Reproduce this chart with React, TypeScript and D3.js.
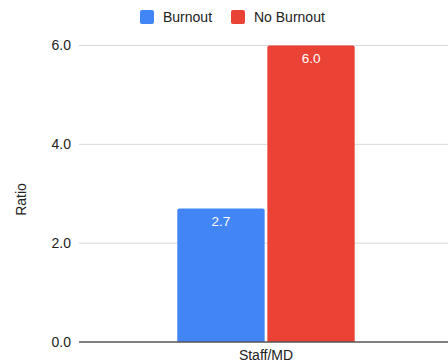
import React from "react";
import * as d3 from "d3";

const categories = ["Staff/MD"];
const seriesNames = ["Burnout", "No Burnout"];
const burnoutValues = [2.7];
const noBurnoutValues = [6.0];
const yTicks = [0, 2, 4, 6];
const seriesColors = ["#4285F4", "#EA4335"];

const W = 448;
const H = 364;
const margin = { left: 79, right: -5, top: 45.5, bottom: 22 };
const FONT = "'Liberation Sans', Arial, sans-serif";

function topRoundedBar(x: number, y: number, w: number, h: number, r: number) {
  const rr = Math.min(r, w / 2, h);
  return `M${x},${y + h}V${y + rr}Q${x},${y} ${x + rr},${y}H${x + w - rr}Q${x + w},${y} ${x + w},${y + rr}V${y + h}Z`;
}

export default function App() {
  const y = d3.scaleLinear().domain([0, 6]).range([H - margin.bottom, margin.top]);
  const x0 = d3
    .scaleBand<string>()
    .domain(categories)
    .range([margin.left, W - margin.right])
    .paddingInner(0.3565)
    .paddingOuter(0.3565);
  const x1 = d3.scaleBand<string>().domain(seriesNames).range([0, x0.bandwidth()]).paddingInner(0.03);
  const seriesValues = [burnoutValues, noBurnoutValues];

  const legendItems = [
    { name: seriesNames[0], x: 140 },
    { name: seriesNames[1], x: 231 },
  ];

  return (
    <svg
      width={W}
      height={H}
      style={{ position: "absolute", left: 0, top: 0, background: "#fff" }}
      fontFamily={FONT}
    >
      {/* legend */}
      {legendItems.map((d, i) => (
        <g key={d.name}>
          <rect x={d.x} y={10} width={14} height={14} rx={2} fill={seriesColors[i]} />
          <text x={d.x + 23} y={21.7} fontSize={14} fill="#222">
            {d.name}
          </text>
        </g>
      ))}

      {/* gridlines and y tick labels */}
      {yTicks.map((t) => (
        <g key={t}>
          {t !== 0 && (
            <line x1={margin.left} x2={W} y1={y(t)} y2={y(t)} stroke="#d9d9d9" strokeWidth={1} />
          )}
          <text x={71} y={y(t) + 4.8} textAnchor="end" fontSize={14} fill="#222">
            {t.toFixed(1)}
          </text>
        </g>
      ))}

      {/* y axis title */}
      <text
        transform={`translate(25.5,${199.5}) rotate(-90)`}
        textAnchor="middle"
        fontSize={14}
        fill="#222"
      >
        Ratio
      </text>

      {/* bars */}
      {categories.map((c, ci) =>
        seriesNames.map((s, si) => {
          const v = seriesValues[si][ci];
          const bx = (x0(c) as number) + (x1(s) as number);
          const bw = x1.bandwidth();
          const by = y(v);
          const bh = y(0) - by;
          return (
            <g key={c + s}>
              <path d={topRoundedBar(bx, by, bw, bh, 2)} fill={seriesColors[si]} />
              <text
                x={bx + bw / 2}
                y={by + 17.5}
                textAnchor="middle"
                fontSize={13.5}
                fill="#fff"
              >
                {v.toFixed(1)}
              </text>
            </g>
          );
        })
      )}

      {/* baseline */}
      <line x1={margin.left} x2={W} y1={y(0)} y2={y(0)} stroke="#555" strokeWidth={1.3} />

      {/* category labels */}
      {categories.map((c) => (
        <text
          key={c}
          x={(x0(c) as number) + x0.bandwidth() / 2}
          y={360}
          textAnchor="middle"
          fontSize={14}
          fill="#222"
        >
          {c}
        </text>
      ))}
    </svg>
  );
}
